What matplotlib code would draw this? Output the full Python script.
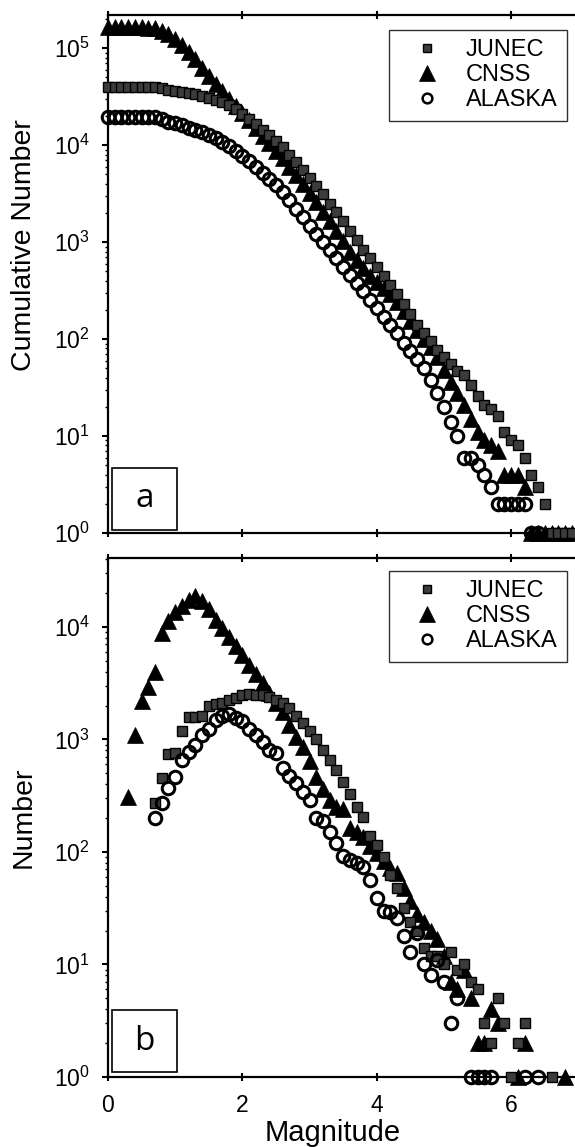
import numpy as np
import matplotlib
matplotlib.use("Agg")
import matplotlib.pyplot as plt
from matplotlib.patches import Rectangle
from matplotlib.ticker import LogLocator, FixedLocator, NullFormatter

plt.rcParams['font.family'] = ['Liberation Sans', 'DejaVu Sans']
plt.rcParams['mathtext.fontset'] = 'custom'
plt.rcParams['mathtext.rm'] = 'Liberation Sans'
plt.rcParams['mathtext.it'] = 'Liberation Sans'

nan = np.nan
# ---------------- data ----------------
mag = np.round(np.arange(0.0, 7.0, 0.1), 1)

# cumulative numbers (panel a), M = 0.0 ... 6.9
junec_cum = [40000]*7 + [39500, 38500, 37500, 36500, 35500, 34500, 33500, 32500, 31000,
             29500, 28000, 26000, 23500, 21000, 18500, 16500, 14500, 12800, 11000,
             9500, 8000, 6700, 5600, 4600, 3800, 3100, 2500, 2050, 1650,
             1300, 1050, 830, 680, 550, 450, 360, 290, 230, 180,
             140, 115, 95, 78, 65, 55, 47, 43, 34, 26,
             21, 19, 16, 11, 9, 8, 6, 4, 3, 2,
             1, 1, 1, 1]
cnss_cum = [165000]*6 + [163000, 160000, 152000, 140000, 125000, 108000, 92000, 77000, 63000,
            52000, 43000, 36000, 30000, 25500, 21500, 18000, 15000, 12500, 10500,
            8800, 7300, 6000, 4900, 4000, 3200, 2600, 2050, 1650, 1300,
            1030, 800, 650, 540, 450, 390, 340, 290, 240, 195,
            155, 125, 100, 82, 66, 48, 36, 28, 21, 15,
            11, 9, 8, 7, 4, 4, 4, 3, 1, 1,
            1, 1, 1, 1, 1]
alaska_cum = [19500]*8 + [18500, 17500, 16800, 16000, 15200, 14500, 13800, 12800, 11800, 10800,
              9800, 8800, 7800, 6900, 6000, 5200, 4500, 3900, 3300, 2700,
              2200, 1800, 1480, 1220, 1000, 820, 680, 560, 460, 380,
              310, 255, 210, 170, 140, 115, 92, 75, 62, 50,
              38, 28, 20, 14, 10, 6, 6, 5, 4, 3,
              2, 2, 2, 2, 2, 1, 1, nan, nan, nan, nan, nan]

# non-cumulative numbers (panel b), M = 0.0 ... 6.9
junec_n = [nan]*7 + [275, 450, 750, 760, 1200, 1580, 1580, 1600, 2000,
           2050, 2100, 2250, 2350, 2500, 2550, 2500, 2500, 2400, 2250,
           2100, 1900, 1600, 1400, 1200, 1000, 800, 660, 540, 420,
           330, 250, 205, 140, 115, 91, 63, 48, 32, 24,
           20, 14, 12, 12, 10, 13, 9, 10, 7, 6,
           3, 2, 5, 3, 1, 2, 3, nan, nan, nan,
           1, nan, nan, nan]
cnss_n = [nan]*3 + [310, 1100, 2200, 2900, 4000, 8900, 11200, 13500, 15500, 17400, 19000,
          17000, 14500, 11500, 9800, 8200, 6800, 5600, 4600, 3800, 3200,
          2600, 2100, 1750, 1350, 1050, 850, 650, 460, 360, 290,
          250, 240, 165, 150, 135, 112, 98, 83, 72, 65,
          48, 37, 28, 24, 20, 17, 12, 7, 6, 9,
          5, 2, 2, 4, 3, nan, nan, 1, 2, nan,
          nan, nan, nan, nan, 1, nan]
alaska_n = [nan]*7 + [200, 270, 370, 460, 660, 780, 890, 1100, 1250,
            1480, 1600, 1700, 1550, 1450, 1250, 1100, 950, 800, 760,
            560, 470, 410, 340, 290, 200, 190, 150, 120, 93,
            85, 80, 74, 56, 39, 30, 29, 26, 18, 13,
            19, 10, 8, 11, 7, 3, 5, nan, 1, 1,
            1, 1, nan, nan, nan, nan, 1, nan, 1, nan,
            nan, nan, nan, nan]

names = ["JUNEC", "CNSS", "ALASKA"]
panel_labels = ["a", "b"]
ylabels = ["Cumulative Number", "Number"]
xticks = [0, 2, 4, 6]

# ---------------- figure ----------------
W, H = 575, 1147
fig = plt.figure(figsize=(W/100, H/100), dpi=100)
x0, xs = 108, 67.2
AXW = 7 * xs
ax1 = fig.add_axes([x0/W, 1-533/H, AXW/W, (533-15)/H])
ax2 = fig.add_axes([x0/W, 1-1077/H, AXW/W, (1077-558)/H])

styles = {
    "JUNEC": dict(marker='s', ms=7.5, mfc='#3c3c3c', mec='black', mew=1.0),
    "CNSS": dict(marker='^', ms=11.5, mfc='black', mec='black', mew=0.5),
    "ALASKA": dict(marker='o', ms=9, mfc='none', mec='black', mew=2.2),
}
leg_sizes = {"JUNEC": (6, 1.0), "CNSS": (11.5, 0.5), "ALASKA": (7, 1.8)}

def draw(ax, data, ylim, ylabel, show_xlabels, leg_top_px, ax_top_px, ax_bot_px, ylab_center_px):
    for name in ["CNSS", "JUNEC", "ALASKA"]:
        ax.plot(mag, data[name], linestyle='none', clip_on=False, zorder=3, **styles[name])
    ax.set_yscale('log')
    ax.set_xlim(0, 7)
    ax.set_ylim(*ylim)
    ax.xaxis.set_major_locator(FixedLocator(xticks))
    ax.yaxis.set_major_locator(LogLocator(base=10, numticks=20))
    ax.yaxis.set_minor_locator(LogLocator(base=10, subs=np.arange(2, 10), numticks=50))
    ax.yaxis.set_minor_formatter(NullFormatter())
    ax.tick_params(axis='both', which='major', direction='out', length=4, width=1.5,
                   labelsize=16.5, top=True)
    ax.tick_params(axis='y', which='major', pad=9)
    ax.tick_params(axis='y', which='minor', direction='out', length=2.5, width=1)
    ax.tick_params(axis='x', which='major', direction='inout', length=6, pad=9)
    if not show_xlabels:
        ax.tick_params(axis='x', labelbottom=False)
    for s in ax.spines.values():
        s.set_linewidth(1.6)
    ax.set_ylabel(ylabel, fontsize=20.5, va='center')
    ax.yaxis.set_label_coords((24 - x0) / AXW,
                              (ax_bot_px - ylab_center_px) / (ax_bot_px - ax_top_px))
    handles = []
    for n in names:
        st = dict(styles[n])
        st['ms'], st['mew'] = leg_sizes[n]
        handles.append(plt.Line2D([], [], linestyle='none', **st))
    leg = ax.legend(handles, names, loc='upper right',
                    bbox_to_anchor=((567 - x0) / AXW,
                                    (ax_bot_px - leg_top_px) / (ax_bot_px - ax_top_px)),
                    frameon=True, fancybox=False, edgecolor='black', fontsize=17,
                    handlelength=2.4, handletextpad=0.45, borderpad=0.4, labelspacing=0.12,
                    borderaxespad=0)
    leg.get_frame().set_linewidth(1.0)
    return leg

draw(ax1, {"JUNEC": junec_cum, "CNSS": cnss_cum, "ALASKA": alaska_cum},
     (1, 2.2e5), ylabels[0], False, 30, 15, 533, 245)
draw(ax2, {"JUNEC": junec_n, "CNSS": cnss_n, "ALASKA": alaska_n},
     (1, 4.1e4), ylabels[1], True, 571, 558, 1077, 817)
ax2.set_xlabel("Magnitude", fontsize=21)
ax2.xaxis.set_label_coords((333 - x0) / AXW, -(1133 - 1077) / (1077 - 558))
ax2.xaxis.label.set_va('center')

# panel label boxes
for (top, bot), lab in zip([(468, 530), (1010, 1072)], panel_labels):
    fig.add_artist(Rectangle((112/W, 1-bot/H), 65/W, (bot-top)/H, transform=fig.transFigure,
                             fill=False, edgecolor='black', linewidth=1.2))
    fig.text((112+32.5)/W, 1-(top+bot)/2/H, lab, ha='center', va='center',
             fontsize=24, family=['Open Sans', 'DejaVu Sans'])

fig.savefig("out.png", dpi=100)
